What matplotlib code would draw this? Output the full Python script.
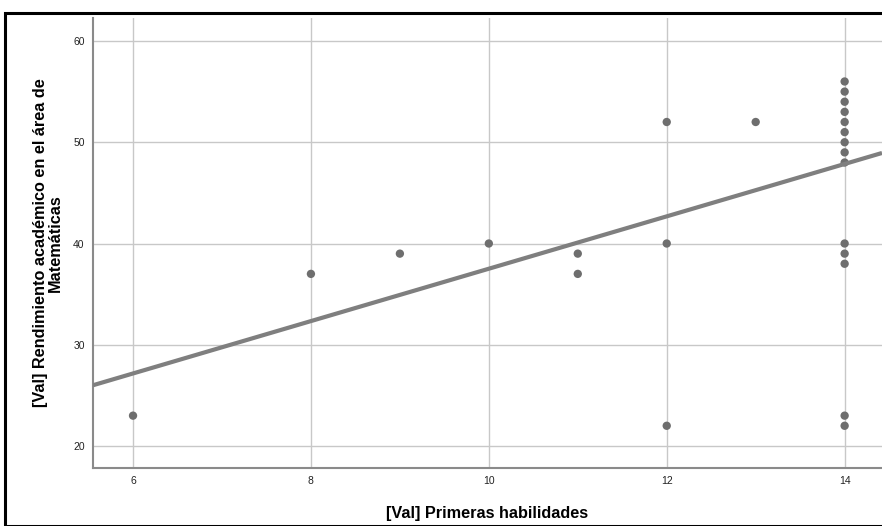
import matplotlib
matplotlib.use("Agg")
import matplotlib.pyplot as plt
import numpy as np
from matplotlib.patches import Rectangle

x_vals = [6, 8, 9, 10, 11, 11, 12, 12, 12, 13,
          14, 14, 14, 14, 14, 14, 14, 14, 14,
          14, 14, 14, 14, 14]
y_vals = [23, 37, 39, 40, 39, 37, 52, 40, 22, 52,
          56, 55, 54, 53, 52, 51, 50, 49, 48,
          40, 39, 38, 23, 22]
fit_intercept = 11.65
fit_slope = 2.586
x_ticks = [6, 8, 10, 12, 14]
y_ticks = [20, 30, 40, 50, 60]
x_label = "[Val] Primeras habilidades"
y_label = "[Val] Rendimiento académico en el área de\nMatemáticas"

plt.rcParams['font.family'] = ['Liberation Sans', 'DejaVu Sans']

fig = plt.figure(figsize=(8.82, 5.26), dpi=100)
ax = fig.add_axes([93/882, 1-468/526, 1-93/882, (468-18)/526])

xlim = (5.55, 14.42)
ylim = (17.83, 62.27)
ax.set_xlim(*xlim)
ax.set_ylim(*ylim)

ax.grid(True, color='#c8c8c8', linewidth=1.0, zorder=0)
ax.set_axisbelow(True)

ax.scatter(x_vals, y_vals, s=36, color='#6e6e6e', edgecolors='none', zorder=3)
xs = np.array(xlim)
ax.plot(xs, fit_intercept + fit_slope * xs, color='#7f7f7f', linewidth=3, zorder=4,
        solid_capstyle='butt')

ax.set_xticks(x_ticks)
ax.set_yticks(y_ticks)
ax.tick_params(axis='both', length=0, labelsize=7.5, colors='#222222', pad=6)
for s in ['top', 'right']:
    ax.spines[s].set_visible(False)
for s in ['left', 'bottom']:
    ax.spines[s].set_color('#8a8a8a')
    ax.spines[s].set_linewidth(1.5)

ax.set_xlabel(x_label, fontsize=11.7, fontweight='bold', labelpad=14)
ax.set_ylabel(y_label, fontsize=11.7, fontweight='bold', labelpad=7, linespacing=1.0)

fig.patches.append(Rectangle((4.5/882, 0), 1, 1 - 13/526, transform=fig.transFigure,
                             fill=False, edgecolor='black', linewidth=2.2, zorder=10))

fig.savefig("out.png", dpi=100)
